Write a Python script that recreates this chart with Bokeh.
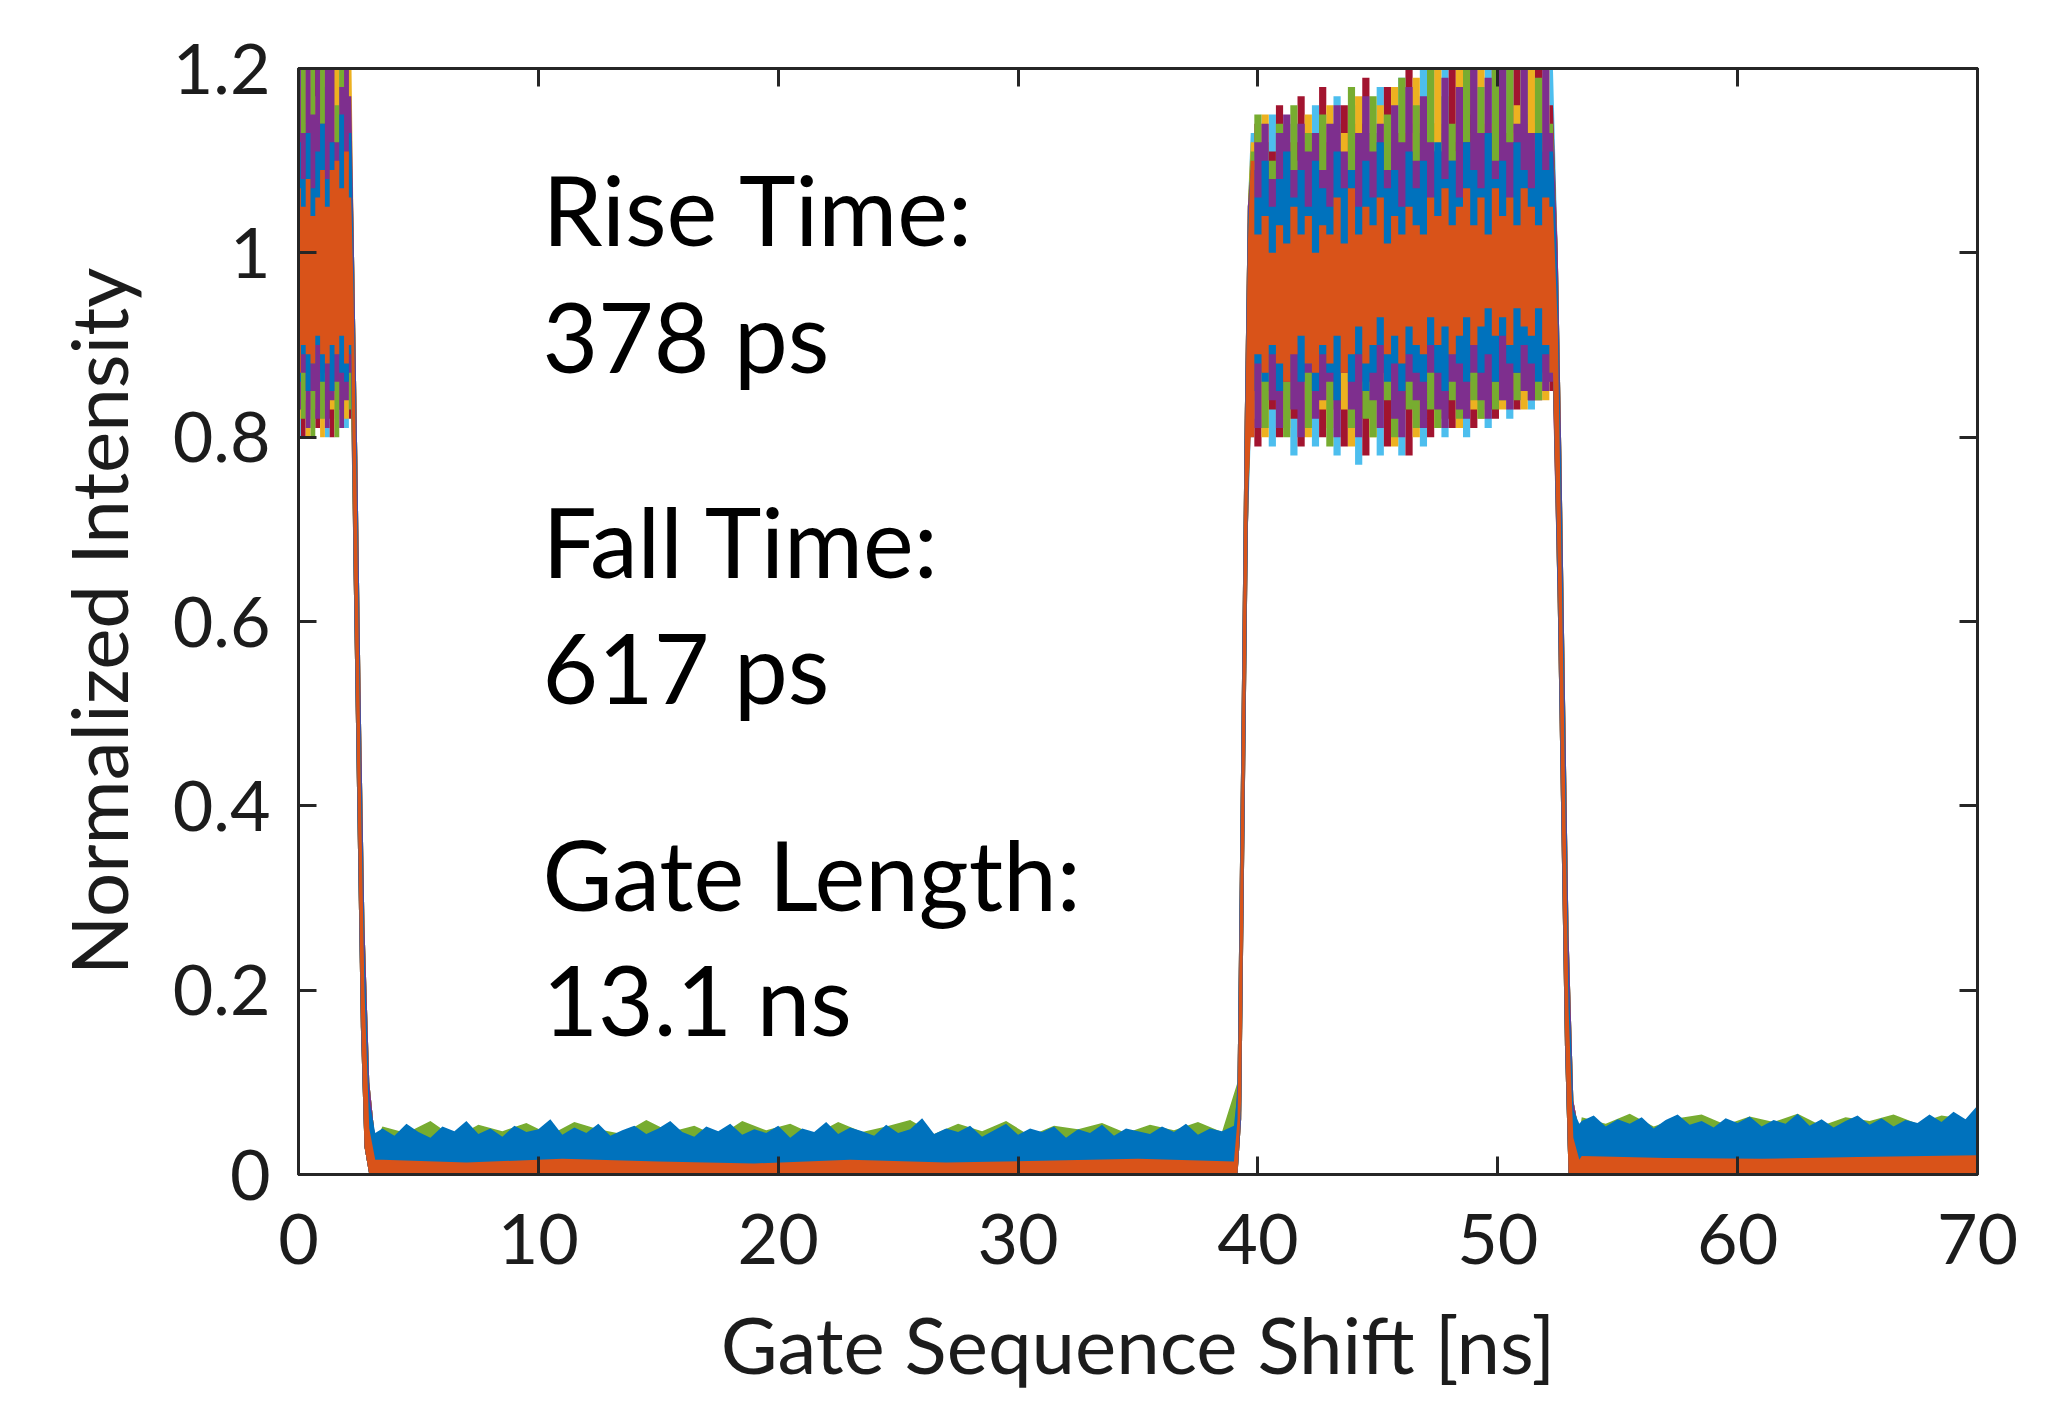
import numpy as np
from bokeh.plotting import figure
from bokeh.models import LinearAxis, FixedTicker, Label
from bokeh.embed import file_html
from bokeh.resources import INLINE

# ---------------- axes / text ----------------
x_ticks = [0, 10, 20, 30, 40, 50, 60, 70]
y_ticks = [0, 0.2, 0.4, 0.6, 0.8, 1, 1.2]
y_tick_labels = ["0", "0.2", "0.4", "0.6", "0.8", "1", "1.2"]
x_label = "Gate Sequence Shift [ns]"
y_label = "Normalized Intensity"
notes = ["Rise Time:", "378 ps", "Fall Time:", "617 ps", "Gate Length:", "13.1 ns"]
note_x = 10.17
note_y = [1.048, 0.910, 0.688, 0.551, 0.327, 0.191]

C_BLUE = "#0072BD"
C_ORANGE = "#D95319"
C_YELLOW = "#EDB120"
C_PURPLE = "#7E2F8E"
C_GREEN = "#77AC30"
C_LBLUE = "#4DBEEE"
C_RED = "#A2142F"

# ---------------- sample positions (ns) ----------------
x_on1 = [0.0, 0.2, 0.4, 0.6, 0.8, 1.0, 1.2, 1.4, 1.6, 1.8, 2.0, 2.2]
x_fall1 = [2.3, 2.45, 2.6, 2.75, 2.95, 3.2]
x_rise = [39.15, 39.3, 39.45, 39.58]
x_on2 = np.round(39.7 + 0.3 * np.arange(43), 2).tolist()
x_fall2 = [52.5, 52.65, 52.8, 52.95, 53.15, 53.4]
x_off1_fine = np.round(3.5 + 0.5 * np.arange(72), 2).tolist()
x_off2_fine = np.round(53.5 + 0.5 * np.arange(34), 2).tolist()
x_off1_mid = np.round(3.5 + 1.0 * np.arange(36), 2).tolist()
x_off2_mid = np.round(53.5 + 1.0 * np.arange(17), 2).tolist()
x_off1_coarse = [3.5, 12.0, 21.0, 30.0, 39.0]
x_off2_coarse = [53.5, 60.0, 65.0, 70.0]
x_off1_orange = [3.5, 7.0, 11.0, 15.0, 19.0, 23.0, 27.0, 31.0, 35.0, 39.0]
x_off2_orange = [53.5, 57.0, 61.0, 65.0, 70.0]

# ---------------- gate-on level, first pulse (0 - 2.2 ns) ----------------
lb_hi_on1 = [1.24, 1.12, 1.18, 1.25, 1.11, 1.22, 1.15, 1.24, 1.13, 1.21, 1.16, 1.12]
rd_hi_on1 = [1.13, 1.23, 1.12, 1.20, 1.24, 1.12, 1.25, 1.14, 1.22, 1.12, 1.24, 1.15]
ye_hi_on1 = [1.18, 1.14, 1.25, 1.12, 1.17, 1.23, 1.12, 1.20, 1.25, 1.14, 1.13, 1.22]
gr_hi_on1 = [1.12, 1.20, 1.14, 1.23, 1.13, 1.25, 1.18, 1.12, 1.16, 1.24, 1.20, 1.13]
pu_hi_on1 = [1.21, 1.13, 1.22, 1.15, 1.24, 1.14, 1.21, 1.25, 1.12, 1.18, 1.25, 1.17]
bl_hi_on1 = [1.12, 1.08, 1.13, 1.07, 1.11, 1.14, 1.08, 1.12, 1.09, 1.15, 1.10, 1.13]
or_hi_on1 = [1.07, 1.05, 1.08, 1.04, 1.06, 1.09, 1.05, 1.09, 1.10, 1.07, 1.11, 1.06]

lb_lo_on1 = [0.80, 0.86, 0.82, 0.81, 0.87, 0.83, 0.80, 0.85, 0.82, 0.86, 0.81, 0.84]
rd_lo_on1 = [0.85, 0.80, 0.87, 0.83, 0.81, 0.86, 0.82, 0.80, 0.87, 0.83, 0.85, 0.82]
ye_lo_on1 = [0.82, 0.84, 0.80, 0.86, 0.83, 0.80, 0.87, 0.83, 0.81, 0.85, 0.82, 0.86]
gr_lo_on1 = [0.87, 0.82, 0.85, 0.80, 0.86, 0.82, 0.84, 0.87, 0.80, 0.83, 0.87, 0.83]
pu_lo_on1 = [0.83, 0.87, 0.81, 0.85, 0.82, 0.87, 0.81, 0.84, 0.86, 0.81, 0.84, 0.87]
bl_lo_on1 = [0.86, 0.89, 0.85, 0.88, 0.90, 0.86, 0.88, 0.85, 0.89, 0.87, 0.86, 0.89]
or_lo_on1 = [0.87, 0.90, 0.89, 0.88, 0.91, 0.89, 0.88, 0.90, 0.89, 0.91, 0.88, 0.90]

# ---------------- gate-on level, second pulse (39.7 - 52.3 ns) ----------------
lb_hi_on2 = [1.13, 1.09, 1.11, 1.15, 1.10, 1.08, 1.14, 1.12, 1.09, 1.16,
             1.11, 1.10, 1.17, 1.09, 1.12, 1.16, 1.10, 1.13, 1.18, 1.10,
             1.12, 1.19, 1.11, 1.14, 1.20, 1.10, 1.13, 1.21, 1.12, 1.10,
             1.22, 1.13, 1.11, 1.21, 1.14, 1.12, 1.23, 1.11, 1.15, 1.22,
             1.12, 1.14, 1.20]
rd_hi_on2 = [1.10, 1.14, 1.09, 1.11, 1.16, 1.09, 1.12, 1.17, 1.10, 1.11,
             1.18, 1.12, 1.09, 1.16, 1.11, 1.14, 1.19, 1.10, 1.12, 1.18,
             1.11, 1.13, 1.21, 1.12, 1.10, 1.20, 1.14, 1.11, 1.22, 1.12,
             1.15, 1.22, 1.10, 1.13, 1.23, 1.12, 1.11, 1.22, 1.14, 1.12,
             1.23, 1.11, 1.16]
ye_hi_on2 = [1.12, 1.10, 1.15, 1.09, 1.11, 1.14, 1.10, 1.09, 1.15, 1.12,
             1.09, 1.16, 1.11, 1.13, 1.10, 1.17, 1.12, 1.09, 1.16, 1.13,
             1.18, 1.10, 1.13, 1.19, 1.11, 1.14, 1.20, 1.12, 1.11, 1.21,
             1.13, 1.10, 1.22, 1.14, 1.11, 1.21, 1.13, 1.16, 1.10, 1.22,
             1.14, 1.21, 1.12]
gr_hi_on2 = [1.11, 1.15, 1.12, 1.10, 1.14, 1.11, 1.16, 1.10, 1.13, 1.10,
             1.15, 1.11, 1.14, 1.10, 1.18, 1.11, 1.13, 1.17, 1.10, 1.15,
             1.12, 1.19, 1.10, 1.16, 1.13, 1.21, 1.11, 1.17, 1.14, 1.11,
             1.21, 1.12, 1.18, 1.11, 1.22, 1.13, 1.20, 1.12, 1.21, 1.11,
             1.19, 1.13, 1.14]
pu_hi_on2 = [1.09, 1.12, 1.14, 1.08, 1.13, 1.15, 1.09, 1.14, 1.11, 1.13,
             1.09, 1.14, 1.16, 1.11, 1.09, 1.13, 1.17, 1.11, 1.14, 1.09,
             1.16, 1.12, 1.18, 1.10, 1.17, 1.12, 1.11, 1.19, 1.10, 1.18,
             1.12, 1.20, 1.13, 1.19, 1.10, 1.21, 1.12, 1.14, 1.22, 1.13,
             1.11, 1.20, 1.13]
bl_hi_on2 = [1.09, 1.06, 1.10, 1.05, 1.08, 1.11, 1.06, 1.09, 1.05, 1.10,
             1.07, 1.05, 1.11, 1.07, 1.09, 1.05, 1.10, 1.06, 1.12, 1.07,
             1.09, 1.05, 1.11, 1.07, 1.10, 1.06, 1.12, 1.08, 1.10, 1.06,
             1.12, 1.09, 1.07, 1.13, 1.08, 1.10, 1.06, 1.12, 1.09, 1.07,
             1.13, 1.09, 1.11]
or_hi_on2 = [1.10, 1.02, 1.04, 1.00, 1.03, 1.01, 1.05, 1.02, 1.04, 1.00,
             1.03, 1.02, 1.06, 1.01, 1.07, 1.02, 1.05, 1.03, 1.06, 1.01,
             1.04, 1.02, 1.05, 1.03, 1.02, 1.06, 1.04, 1.07, 1.03, 1.05,
             1.07, 1.03, 1.06, 1.02, 1.07, 1.04, 1.06, 1.03, 1.07, 1.05,
             1.03, 1.06, 1.05]

lb_lo_on2 = [0.80, 0.86, 0.83, 0.79, 0.87, 0.84, 0.78, 0.86, 0.82, 0.79,
             0.88, 0.83, 0.78, 0.85, 0.87, 0.77, 0.84, 0.86, 0.78, 0.83,
             0.87, 0.78, 0.85, 0.82, 0.79, 0.86, 0.84, 0.80, 0.87, 0.83,
             0.80, 0.86, 0.84, 0.81, 0.88, 0.85, 0.82, 0.87, 0.84, 0.83,
             0.88, 0.85, 0.86]
rd_lo_on2 = [0.84, 0.79, 0.86, 0.83, 0.80, 0.87, 0.82, 0.79, 0.86, 0.84,
             0.80, 0.87, 0.83, 0.79, 0.86, 0.82, 0.78, 0.87, 0.84, 0.79,
             0.85, 0.83, 0.78, 0.86, 0.84, 0.80, 0.87, 0.82, 0.81, 0.86,
             0.84, 0.81, 0.88, 0.83, 0.82, 0.87, 0.85, 0.83, 0.88, 0.84,
             0.84, 0.87, 0.85]
ye_lo_on2 = [0.86, 0.82, 0.80, 0.87, 0.83, 0.81, 0.86, 0.84, 0.80, 0.87,
             0.83, 0.81, 0.86, 0.83, 0.79, 0.85, 0.88, 0.80, 0.84, 0.86,
             0.79, 0.85, 0.87, 0.80, 0.83, 0.86, 0.81, 0.85, 0.87, 0.81,
             0.86, 0.83, 0.82, 0.87, 0.84, 0.83, 0.88, 0.85, 0.83, 0.87,
             0.85, 0.84, 0.87]
gr_lo_on2 = [0.83, 0.87, 0.81, 0.85, 0.88, 0.80, 0.84, 0.87, 0.81, 0.85,
             0.86, 0.79, 0.84, 0.87, 0.81, 0.86, 0.82, 0.80, 0.87, 0.84,
             0.80, 0.86, 0.83, 0.81, 0.87, 0.83, 0.81, 0.86, 0.84, 0.82,
             0.87, 0.84, 0.82, 0.86, 0.83, 0.84, 0.87, 0.84, 0.85, 0.86,
             0.84, 0.86, 0.87]
pu_lo_on2 = [0.85, 0.81, 0.87, 0.84, 0.81, 0.86, 0.83, 0.80, 0.87, 0.82,
             0.84, 0.86, 0.80, 0.87, 0.83, 0.80, 0.86, 0.84, 0.81, 0.87,
             0.82, 0.80, 0.86, 0.84, 0.81, 0.87, 0.83, 0.81, 0.86, 0.83,
             0.82, 0.87, 0.84, 0.82, 0.86, 0.84, 0.83, 0.87, 0.85, 0.84,
             0.87, 0.85, 0.86]
bl_lo_on2 = [0.85, 0.88, 0.86, 0.89, 0.85, 0.87, 0.90, 0.86, 0.88, 0.85,
             0.89, 0.87, 0.84, 0.88, 0.86, 0.89, 0.85, 0.87, 0.90, 0.86,
             0.88, 0.85, 0.89, 0.87, 0.86, 0.90, 0.87, 0.85, 0.89, 0.88,
             0.86, 0.90, 0.87, 0.89, 0.86, 0.91, 0.88, 0.87, 0.90, 0.88,
             0.86, 0.89, 0.87]
or_lo_on2 = [0.80, 0.89, 0.87, 0.90, 0.88, 0.86, 0.89, 0.91, 0.88, 0.87,
             0.90, 0.88, 0.91, 0.87, 0.89, 0.92, 0.88, 0.90, 0.93, 0.89,
             0.91, 0.88, 0.92, 0.90, 0.89, 0.93, 0.90, 0.92, 0.89, 0.91,
             0.93, 0.90, 0.92, 0.94, 0.91, 0.93, 0.90, 0.94, 0.92, 0.91,
             0.94, 0.90, 0.87]

# ---------------- edges ----------------
fr_hi_fall1 = [1.02, 0.78, 0.50, 0.27, 0.10, 0.036]
fr_lo_fall1 = [0.65, 0.40, 0.16, 0.03, 0.0, 0.0]
bl_hi_fall1 = [0.98, 0.74, 0.46, 0.24, 0.08, 0.045]
bl_lo_fall1 = [0.66, 0.41, 0.17, 0.03, 0.0, 0.0]
or_hi_fall1 = [0.95, 0.70, 0.42, 0.20, 0.05, 0.016]
or_lo_fall1 = [0.68, 0.43, 0.18, 0.03, 0.0, 0.0]

fr_hi_rise = [0.10, 0.45, 0.82, 1.05]
fr_lo_rise = [0.0, 0.06, 0.40, 0.70]
bl_hi_rise = [0.09, 0.43, 0.80, 1.03]
bl_lo_rise = [0.0, 0.07, 0.42, 0.72]
or_hi_rise = [0.06, 0.40, 0.78, 1.01]
or_lo_rise = [0.0, 0.08, 0.44, 0.74]

fr_hi_fall2 = [1.00, 0.78, 0.52, 0.26, 0.08, 0.045]
fr_lo_fall2 = [0.62, 0.38, 0.14, 0.0, 0.0, 0.0]
bl_hi_fall2 = [0.96, 0.74, 0.48, 0.22, 0.07, 0.055]
bl_lo_fall2 = [0.64, 0.40, 0.15, 0.0, 0.0, 0.0]
or_hi_fall2 = [0.92, 0.68, 0.43, 0.18, 0.04, 0.016]
or_lo_fall2 = [0.66, 0.42, 0.16, 0.0, 0.0, 0.0]

# ---------------- gate-off level ----------------
fr_hi_off1 = [0.036, 0.035, 0.037, 0.034, 0.036]
fr_hi_off2 = [0.045, 0.044, 0.046, 0.047]
gr_hi_off1 = [0.052, 0.045, 0.058, 0.040, 0.054, 0.047, 0.056, 0.043, 0.057, 0.049,
              0.044, 0.059, 0.046, 0.053, 0.041, 0.058, 0.048, 0.055, 0.043, 0.057,
              0.046, 0.052, 0.059, 0.044, 0.055, 0.047, 0.058, 0.042, 0.053, 0.049,
              0.056, 0.045, 0.054, 0.048, 0.057, 0.046]
gr_hi_off2 = [0.062, 0.055, 0.066, 0.052, 0.061, 0.065, 0.054, 0.063, 0.057, 0.066,
              0.053, 0.062, 0.058, 0.065, 0.055, 0.064, 0.060]
bl_hi_off1 = [0.050, 0.042, 0.055, 0.046, 0.040, 0.052, 0.047, 0.058, 0.044, 0.050,
              0.041, 0.053, 0.046, 0.049, 0.060, 0.043, 0.051, 0.045, 0.055, 0.042,
              0.048, 0.053, 0.044, 0.050, 0.058, 0.046, 0.041, 0.052, 0.047, 0.055,
              0.043, 0.049, 0.045, 0.053, 0.040, 0.050, 0.046, 0.057, 0.044, 0.051,
              0.047, 0.042, 0.054, 0.045, 0.049, 0.061, 0.044, 0.050, 0.046, 0.053,
              0.041, 0.048, 0.055, 0.043, 0.050, 0.046, 0.052, 0.040, 0.049, 0.045,
              0.054, 0.042, 0.050, 0.047, 0.044, 0.052, 0.046, 0.055, 0.043, 0.050,
              0.047, 0.053]
bl_hi_off2 = [0.058, 0.064, 0.052, 0.060, 0.055, 0.062, 0.050, 0.059, 0.065, 0.054,
              0.058, 0.051, 0.061, 0.056, 0.063, 0.052, 0.059, 0.055, 0.066, 0.053,
              0.060, 0.051, 0.058, 0.064, 0.054, 0.061, 0.052, 0.059, 0.056, 0.065,
              0.057, 0.068, 0.060, 0.075]
or_hi_off1 = [0.016, 0.013, 0.017, 0.014, 0.012, 0.016, 0.013, 0.015, 0.017, 0.014]
or_hi_off2 = [0.020, 0.018, 0.017, 0.019, 0.021]


def stepped(xs, lo, hi):
    """Draw each sample as a flat step centred on its position (like dense traces)."""
    mids = [(a + b) / 2 for a, b in zip(xs[:-1], xs[1:])]
    left = [xs[0]] + mids
    right = mids + [xs[-1]]
    X, L, H = [], [], []
    for l, r, a, b in zip(left, right, lo, hi):
        X += [l, r]
        L += [a, a]
        H += [b, b]
    return X, L, H


def band(on1_lo, on1_hi, f1_lo, f1_hi, off1_x, off1_hi, r_lo, r_hi,
         on2_lo, on2_hi, f2_lo, f2_hi, off2_x, off2_hi):
    s1x, s1l, s1h = stepped(x_on1, on1_lo, on1_hi)
    s2x, s2l, s2h = stepped(x_on2, on2_lo, on2_hi)
    x = s1x + x_fall1 + list(off1_x) + x_rise + s2x + x_fall2 + list(off2_x)
    lo = (s1l + f1_lo + [0.0] * len(off1_x) + r_lo + s2l + f2_lo
          + [0.0] * len(off2_x))
    hi = (s1h + f1_hi + list(off1_hi) + r_hi + s2h + f2_hi + list(off2_hi))
    return x, lo, hi


layers = [
    (C_LBLUE, band(lb_lo_on1, lb_hi_on1, fr_lo_fall1, fr_hi_fall1, x_off1_coarse, fr_hi_off1,
                   fr_lo_rise, fr_hi_rise, lb_lo_on2, lb_hi_on2, fr_lo_fall2, fr_hi_fall2,
                   x_off2_coarse, fr_hi_off2)),
    (C_RED, band(rd_lo_on1, rd_hi_on1, fr_lo_fall1, fr_hi_fall1, x_off1_coarse, fr_hi_off1,
                 fr_lo_rise, fr_hi_rise, rd_lo_on2, rd_hi_on2, fr_lo_fall2, fr_hi_fall2,
                 x_off2_coarse, fr_hi_off2)),
    (C_YELLOW, band(ye_lo_on1, ye_hi_on1, fr_lo_fall1, fr_hi_fall1, x_off1_coarse, fr_hi_off1,
                    fr_lo_rise, fr_hi_rise, ye_lo_on2, ye_hi_on2, fr_lo_fall2, fr_hi_fall2,
                    x_off2_coarse, fr_hi_off2)),
    (C_GREEN, band(gr_lo_on1, gr_hi_on1, fr_lo_fall1, fr_hi_fall1, x_off1_mid, gr_hi_off1,
                   fr_lo_rise, fr_hi_rise, gr_lo_on2, gr_hi_on2, fr_lo_fall2, fr_hi_fall2,
                   x_off2_mid, gr_hi_off2)),
    (C_PURPLE, band(pu_lo_on1, pu_hi_on1, fr_lo_fall1, fr_hi_fall1, x_off1_coarse, fr_hi_off1,
                    fr_lo_rise, fr_hi_rise, pu_lo_on2, pu_hi_on2, fr_lo_fall2, fr_hi_fall2,
                    x_off2_coarse, fr_hi_off2)),
    (C_BLUE, band(bl_lo_on1, bl_hi_on1, bl_lo_fall1, bl_hi_fall1, x_off1_fine, bl_hi_off1,
                  bl_lo_rise, bl_hi_rise, bl_lo_on2, bl_hi_on2, bl_lo_fall2, bl_hi_fall2,
                  x_off2_fine, bl_hi_off2)),
    (C_ORANGE, band(or_lo_on1, or_hi_on1, or_lo_fall1, or_hi_fall1, x_off1_orange, or_hi_off1,
                    or_lo_rise, or_hi_rise, or_lo_on2, or_hi_on2, or_lo_fall2, or_hi_fall2,
                    x_off2_orange, or_hi_off2)),
]

# ---------------- figure ----------------
FONT = "Lato"
INK = "#1c1c1c"
FRAME = "#262626"

p = figure(width=2040, height=1419, x_range=(0, 70), y_range=(0, 1.2),
           output_backend="svg", toolbar_location=None,
           min_border_left=298, min_border_right=63, min_border_top=68,
           min_border_bottom=245)
p.background_fill_color = "white"
p.border_fill_color = "white"
p.xgrid.visible = False
p.ygrid.visible = False
p.outline_line_color = FRAME
p.outline_line_width = 3

for color, (xx, lo, hi) in layers:
    p.varea(x=xx, y1=lo, y2=hi, fill_color=color, fill_alpha=1.0)

for i, t in enumerate(notes):
    p.add_layout(Label(x=note_x, y=note_y[i], x_units="data", y_units="data", text=t,
                       text_font=FONT, text_font_size="96px", text_color="black",
                       text_align="left", text_baseline="alphabetic"))


def style_axis(ax, ticks, show_labels):
    ax.ticker = FixedTicker(ticks=ticks)
    ax.axis_line_color = FRAME
    ax.axis_line_width = 3
    ax.major_tick_line_color = FRAME
    ax.major_tick_line_width = 3
    ax.major_tick_in = 18
    ax.major_tick_out = 0
    ax.minor_tick_line_color = None
    if show_labels:
        ax.major_label_text_font = FONT
        ax.major_label_text_font_size = "70px"
        ax.major_label_text_color = INK
        ax.axis_label_text_font = FONT
        ax.axis_label_text_font_size = "78px"
        ax.axis_label_text_font_style = "normal"
        ax.axis_label_text_color = INK
    else:
        ax.major_label_text_font_size = "10px"
        ax.major_label_text_color = None


xa = p.xaxis[0]
style_axis(xa, x_ticks, True)
xa.axis_label = x_label
xa.major_label_standoff = 39
xa.axis_label_standoff = 30

ya = p.yaxis[0]
style_axis(ya, y_ticks, True)
ya.axis_label = y_label
ya.major_label_standoff = 28
ya.axis_label_standoff = 25
ya.major_label_overrides = {v: s for v, s in zip(y_ticks, y_tick_labels)}

top = LinearAxis()
style_axis(top, x_ticks, False)
p.add_layout(top, "above")
right = LinearAxis()
style_axis(right, y_ticks, False)
p.add_layout(right, "right")

open("out.html", "w").write(file_html(p, INLINE))
